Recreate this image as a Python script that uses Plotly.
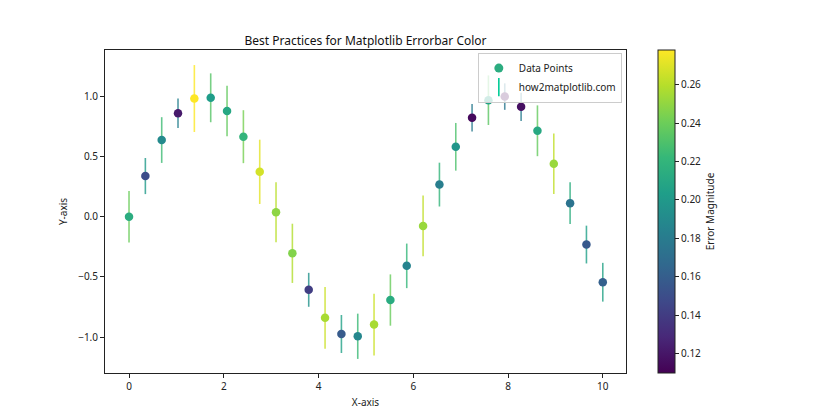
import plotly.graph_objects as go
from plotly.colors import sample_colorscale

x_vals = [0.0, 0.345, 0.690, 1.034, 1.379, 1.724, 2.069, 2.414, 2.759, 3.103,
          3.448, 3.793, 4.138, 4.483, 4.828, 5.172, 5.517, 5.862, 6.207, 6.552,
          6.897, 7.241, 7.586, 7.931, 8.276, 8.621, 8.966, 9.310, 9.655, 10.0]
y_vals = [0.000, 0.338, 0.637, 0.860, 0.982, 0.988, 0.879, 0.665, 0.373, 0.038,
          -0.304, -0.607, -0.840, -0.974, -0.993, -0.896, -0.692, -0.408, -0.076, 0.267,
          0.581, 0.823, 0.968, 0.998, 0.913, 0.714, 0.440, 0.113, -0.231, -0.544]
err_vals = [0.214, 0.150, 0.190, 0.122, 0.278, 0.203, 0.210, 0.220, 0.267, 0.249,
            0.246, 0.141, 0.256, 0.158, 0.188, 0.256, 0.213, 0.185, 0.252, 0.182,
            0.198, 0.114, 0.206, 0.110, 0.117, 0.211, 0.252, 0.174, 0.157, 0.161]
cbar_ticks = [0.12, 0.14, 0.16, 0.18, 0.20, 0.22, 0.24, 0.26]

FONT = "Noto Sans"
emax = max(err_vals)
ecolors = sample_colorscale("Viridis", [e / emax for e in err_vals], colortype="rgb")

def with_alpha(c, a):
    return c.replace("rgb(", "rgba(").replace(")", f",{a})")

fig = go.Figure()

for xv, yv, ev, col in zip(x_vals, y_vals, err_vals, ecolors):
    fig.add_trace(go.Scatter(
        x=[xv], y=[yv], mode="markers",
        marker=dict(size=1, opacity=0),
        error_y=dict(type="data", array=[ev], color=with_alpha(col, 0.8),
                     thickness=1.6, width=0),
        showlegend=False, hoverinfo="skip"))

fig.add_trace(go.Scatter(
    x=x_vals, y=y_vals, mode="markers",
    marker=dict(size=8.5, color=err_vals, colorscale="Viridis",
                cmin=min(err_vals), cmax=max(err_vals),
                colorbar=dict(
                    x=(658 - 105) / 521, xanchor="left", xref="paper",
                    xpad=0, ypad=0,
                    y=0.5, yanchor="middle", len=1.0, lenmode="fraction",
                    thickness=17, outlinewidth=1, outlinecolor="#222",
                    ticks="outside", ticklen=4, tickcolor="#222",
                    tickvals=cbar_ticks, ticktext=[f"{t:.2f}" for t in cbar_ticks],
                    tickfont=dict(family=FONT, size=10, color="#222"),
                    title=dict(text="Error Magnitude", side="right",
                               font=dict(family=FONT, size=10, color="#222")))),
    showlegend=False))

first_scatter_col = sample_colorscale(
    "Viridis", [(err_vals[0] - min(err_vals)) / (max(err_vals) - min(err_vals))])[0]

fig.add_trace(go.Scatter(
    x=[None], y=[None], mode="markers", name="Data Points",
    marker=dict(size=9, color=first_scatter_col)))
fig.add_trace(go.Scatter(
    x=[None], y=[None], mode="markers", name="how2matplotlib.com",
    marker=dict(size=13, symbol="line-ns-open",
                line=dict(width=1.6, color=with_alpha(ecolors[0], 0.8)))))

axis_common = dict(showline=True, linecolor="#222", linewidth=1, mirror=True,
                   ticks="outside", ticklen=4, tickcolor="#222", showgrid=False,
                   zeroline=False, tickfont=dict(family=FONT, size=10, color="#222"))

fig.update_layout(
    width=840, height=420,
    margin=dict(l=105, r=214, t=50, b=47),
    paper_bgcolor="white", plot_bgcolor="white",
    title=dict(text="Best Practices for Matplotlib Errorbar Color",
               x=(105 + 626) / 2 / 840, xanchor="center",
               y=1 - 41 / 420, yanchor="middle",
               font=dict(family=FONT, size=12, color="#111")),
    xaxis=dict(range=[-0.507, 10.49], tickvals=[0, 2, 4, 6, 8, 10],
               title=dict(text="X-axis", font=dict(family=FONT, size=10, color="#222"),
                          standoff=6),
               **axis_common),
    yaxis=dict(range=[-1.298, 1.385], tickvals=[-1.0, -0.5, 0.0, 0.5, 1.0],
               ticktext=["−1.0", "−0.5", "0.0", "0.5", "1.0"],
               title=dict(text="Y-axis", font=dict(family=FONT, size=10, color="#222"),
                          standoff=8),
               **axis_common),
    legend=dict(x=0.992, xanchor="right", y=0.992, yanchor="top",
                bgcolor="rgba(255,255,255,0.8)", bordercolor="#ccc", borderwidth=1,
                font=dict(family=FONT, size=10, color="#222"),
                tracegroupgap=0),
    showlegend=True,
)

fig.write_html("out.html")
